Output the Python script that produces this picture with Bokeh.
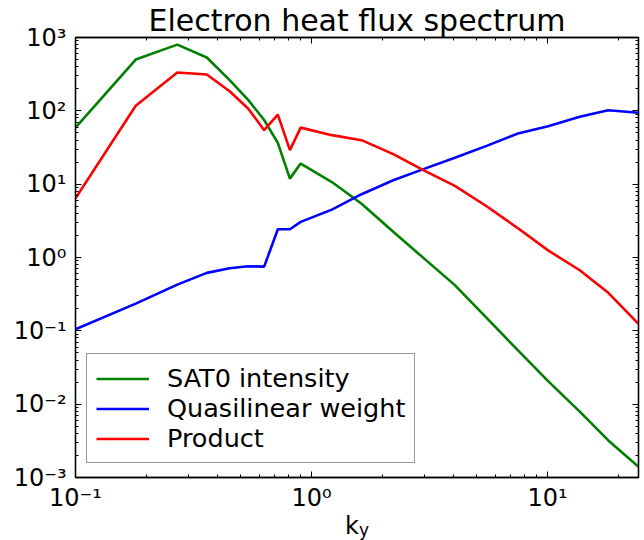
from bokeh.plotting import figure
from bokeh.layouts import column
from bokeh.models import (LogAxis, LogTicker, CustomJSTickFormatter, Legend,
                          LegendItem, Range1d, Div)
from bokeh.embed import file_html
from bokeh.resources import INLINE

# ---- data ----
ky = [0.1, 0.18, 0.27, 0.36, 0.45, 0.54, 0.63, 0.72, 0.81, 0.9, 1.22, 1.63,
      2.22, 3.02, 4.05, 5.52, 7.5, 10.06, 13.7, 18.1, 24.3]
sat0_intensity = [59, 500, 800, 534, 262, 140, 75, 36.6, 11.9, 19.1, 10.7, 5.4,
                  2.24, 0.95, 0.42, 0.15, 0.054, 0.0206, 0.0079, 0.0032, 0.0014]
quasilinear_weight = [0.105, 0.235, 0.427, 0.617, 0.714, 0.76, 0.75, 2.43, 2.43,
                      3.06, 4.5, 7.3, 11.3, 16.3, 22.9, 33.3, 49, 61.8, 82.8, 102, 94]
product = [6.4, 117, 334, 313, 185, 107, 54.5, 89, 29.1, 59, 46.6, 39.8,
           25.7, 15.2, 9.5, 5.0, 2.5, 1.25, 0.67, 0.33, 0.125]

series_labels = ["SAT0 intensity", "Quasilinear weight", "Product"]
series_colors = ["#008000", "#0000ff", "#ff0000"]
x_limits = [0.1, 24.3]
y_limits = [1e-3, 1e3]
title_text = "Electron heat flux spectrum"
xlabel_main = "k"
xlabel_sub = "y"

FONT = "DejaVu Sans"
FW, FH = 563, 440

fig = figure(x_axis_type="log", y_axis_type="log",
             x_range=Range1d(*x_limits), y_range=Range1d(*y_limits),
             frame_width=FW, frame_height=FH,
             min_border_left=75, min_border_top=36, min_border_right=4, min_border_bottom=36,
             output_backend="svg", toolbar_location=None)
fig.grid.visible = False
fig.outline_line_color = "black"
fig.outline_line_width = 1.3
fig.background_fill_color = "white"
fig.border_fill_color = "white"

fig.title.text = title_text
fig.title.text_font = FONT
fig.title.text_font_size = "30px"
fig.title.text_font_style = "normal"
fig.title.text_color = "black"
fig.title.align = "center"
fig.title.standoff = 0
fig.title.text_line_height = 0.9

bottom = fig.below[0]
left = fig.left[0]

renderers = []
for ys, col in zip([sat0_intensity, quasilinear_weight, product], series_colors):
    r = fig.line(ky, ys, line_color=col, line_width=2.6)
    renderers.append(r)

sup_code = """
const sup = {"0":"\\u2070","1":"\\u00b9","2":"\\u00b2","3":"\\u00b3","4":"\\u2074",
             "5":"\\u2075","6":"\\u2076","7":"\\u2077","8":"\\u2078","9":"\\u2079","-":"\\u207b"};
const e = Math.round(Math.log10(tick));
return "10" + String(e).split("").map(c => sup[c]).join("");
"""

xt = LogTicker(desired_num_ticks=4, num_minor_ticks=10)
yt = LogTicker(desired_num_ticks=8, num_minor_ticks=10)

bottom.ticker = xt
left.ticker = yt
bottom.formatter = CustomJSTickFormatter(code=sup_code)
left.formatter = CustomJSTickFormatter(code=sup_code)

top = LogAxis(ticker=xt, formatter=CustomJSTickFormatter(code="return ''"))
right = LogAxis(ticker=yt, formatter=CustomJSTickFormatter(code="return ''"))
fig.add_layout(top, "above")
fig.add_layout(right, "right")

for ax in [bottom, left, top, right]:
    ax.axis_line_color = "black"
    ax.axis_line_width = 1.3
    ax.major_tick_in = 6
    ax.major_tick_out = 0
    ax.minor_tick_in = 3
    ax.minor_tick_out = 0
    ax.major_tick_line_color = "black"
    ax.minor_tick_line_color = "black"
    ax.major_label_text_font = FONT
    ax.major_label_text_color = "black"
for ax in [bottom, left]:
    ax.major_label_text_font_size = "24px"
for ax in [top, right]:
    ax.major_label_text_font_size = "1px"
    ax.major_label_standoff = 0
bottom.major_label_standoff = 6
left.major_label_standoff = 9

legend = Legend(items=[LegendItem(label=l, renderers=[r]) for l, r in zip(series_labels, renderers)],
                location=(11, 14), margin=0, padding=9, spacing=0,
                glyph_width=53, glyph_height=29, label_height=29, label_standoff=18,
                label_text_font=FONT, label_text_font_size="25.5px", label_text_color="black",
                border_line_color="#333333", border_line_width=1.5,
                background_fill_color="white", background_fill_alpha=1)
fig.add_layout(legend)

# x-axis label k_y (subscript y) as HTML text under the plot
xlabel = Div(
    text=(f'<span style="font-size:24px">{xlabel_main}</span>'
          f'<span style="font-size:17px;position:relative;top:2px">{xlabel_sub}</span>'),
    width=642, height=26, margin=0,
    styles={"font-family": "DejaVu Sans", "line-height": "24px", "color": "black",
            "padding-left": "345px", "white-space": "nowrap"})

p = column(fig, xlabel, spacing=0)

html = file_html(p, INLINE)
with open("out.html", "w", encoding="utf-8") as f:
    f.write(html)
